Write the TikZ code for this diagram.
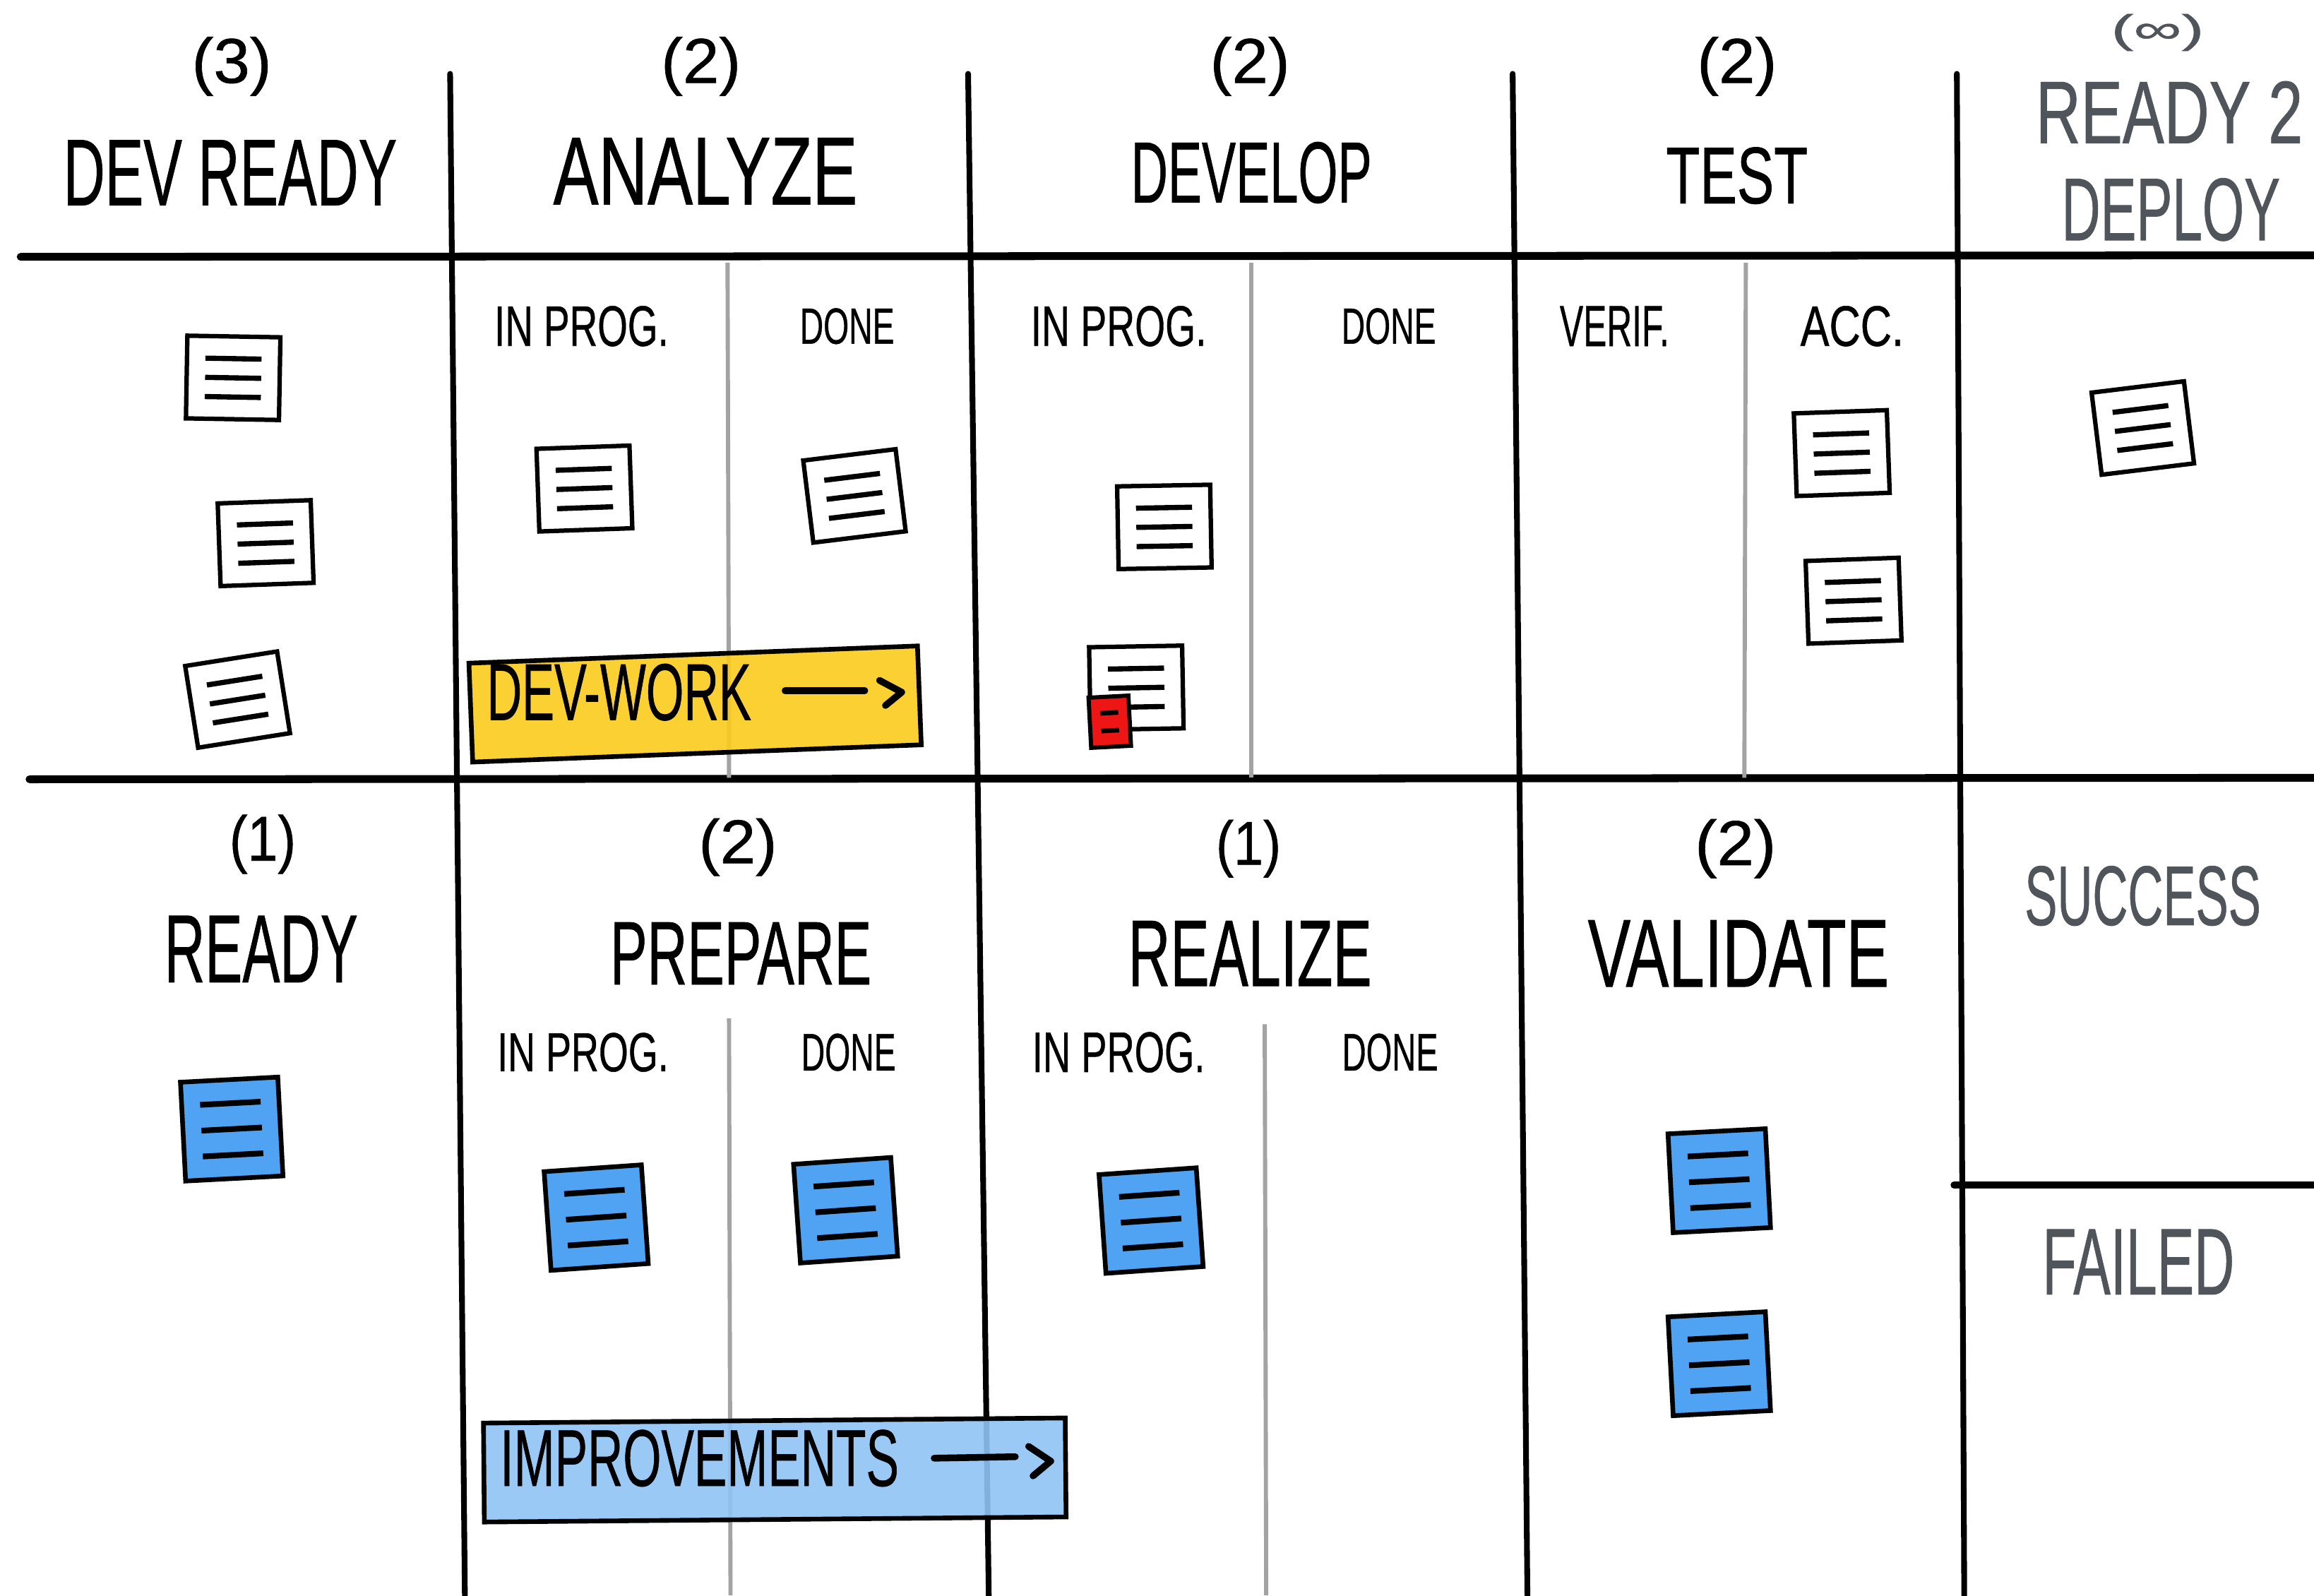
\documentclass[tikz,border=0pt]{standalone}
\usepackage{fontspec}
\setmainfont{Liberation Sans}
\newfontfamily\handfont{Liberation Sans}[FakeBold=0.7]
\usepackage{graphicx}
\definecolor{bluecard}{HTML}{50A2F2}
\definecolor{bluebanner}{HTML}{90C4F6}
\definecolor{yellowbanner}{HTML}{FBCB1C}
\definecolor{redcard}{HTML}{EE1515}
\definecolor{greytxt}{HTML}{50555B}
\definecolor{subline}{HTML}{A3A3A3}
\newcommand\capsfit[3]{\resizebox{#1cm}{#2cm}{#3}}
\newcommand\parfit[3]{\resizebox*{#1cm}{#2cm}{#3}}
\newcommand\cardlines[3]{\vbox{\hrule width #1 height #3\vskip\dimexpr #2-#3\relax\hrule width #1 height #3\vskip\dimexpr #2-#3\relax\hrule width #1 height #3}}
\newcommand\twolines[3]{\vbox{\hrule width #1 height #3\vskip\dimexpr #2-#3\relax\hrule width #1 height #3}}
\tikzset{
  lbl/.style={inner sep=0pt, font=\handfont},
  glbl/.style={lbl, text=greytxt},
  board/.style={line width=1.1pt, black, line cap=round},
  brush/.style={line width=1.5pt, black, line cap=round},
  subdiv/.style={line width=0.8pt, subline},
  wcard/.style={draw=black, line width=0.85pt, fill=white, inner sep=0pt,
    minimum width=0.63cm, minimum height=0.56cm,
    node contents={\cardlines{0.38cm}{0.13cm}{1pt}}},
  bcard/.style={draw=black, line width=0.9pt, fill=bluecard, inner sep=0pt,
    minimum width=0.66cm, minimum height=0.67cm,
    node contents={\cardlines{0.41cm}{0.175cm}{1.1pt}}},
  rcard/.style={draw=black, line width=0.8pt, fill=redcard, inner sep=0pt,
    minimum width=0.27cm, minimum height=0.34cm,
    node contents={\twolines{0.12cm}{0.12cm}{0.9pt}}},
  banner/.style={draw=black, line width=0.9pt, inner sep=0pt, fill opacity=0.9, text opacity=1},
  arrowpart/.style={line width=1.3pt, line cap=round, line join=round}
}
\begin{document}
\begin{tikzpicture}[x=0.01cm, y=-0.01cm]
\fill[white] (0,0) rectangle (1568,1081);
\useasboundingbox (0,0) rectangle (1568,1081);

% grid
\draw[brush] (14,174) -- (1568,173);
\draw[brush] (20,528) -- (1568,527);
\draw[board, line width=1.3pt] (1324,803) -- (1568,803);
\draw[board] (305,50) -- (315,1081);
\draw[board] (656,50) -- (670,1081);
\draw[board] (1025,50) -- (1035,1081);
\draw[board] (1326,50) -- (1331,1081);
\draw[subdiv] (493,178) -- (494,527);
\draw[subdiv] (494,690) -- (495,1081);
\draw[subdiv] (848,178) -- (848,527);
\draw[subdiv] (857,694) -- (858,1081);
\draw[subdiv] (1183,178) -- (1182,527);

% banners
\node[banner, fill=yellowbanner, minimum width=3.04cm, minimum height=0.67cm, rotate=2.2] (devwork) at (471,477) {};
\node[banner, fill=bluebanner, minimum width=3.94cm, minimum height=0.67cm, rotate=0.5] (improv) at (525,996) {};
\node[lbl] (devworktxt) at (419.5,469) {\capsfit{1.79}{0.38}{DEV-WORK}};
\draw[arrowpart] (532,468) -- (586,468);
\draw[arrowpart] (596,461) -- (611,469) -- (600,478);
\node[lbl] (imptxt) at (474,988) {\capsfit{2.70}{0.38}{IMPROVEMENTS}};
\draw[arrowpart] (633,988) -- (688,987);
\draw[arrowpart] (697,980) -- (712,990) -- (700,1000);

% column headers (top)
\node[lbl] (n1) at (157,45) {\parfit{0.54}{0.40}{(3)}};
\node[lbl] (h1) at (156,117) {\capsfit{2.26}{0.44}{DEV READY}};
\node[lbl] (n2) at (475,45) {\parfit{0.54}{0.40}{(2)}};
\node[lbl] (h2) at (478,116) {\capsfit{2.06}{0.45}{ANALYZE}};
\node[lbl] (n3) at (847,45) {\parfit{0.54}{0.40}{(2)}};
\node[lbl] (h3) at (848,117) {\capsfit{1.63}{0.41}{DEVELOP}};
\node[lbl] (n4) at (1177,45) {\parfit{0.54}{0.40}{(2)}};
\node[lbl] (h4) at (1177,119) {\capsfit{0.96}{0.38}{TEST}};
\node[glbl] (n5) at (1462,22) {\parfit{0.63}{0.25}{(∞)}};
\node[glbl] (h5a) at (1470,76) {\capsfit{1.81}{0.42}{READY 2}};
\node[glbl] (h5b) at (1471,142) {\capsfit{1.48}{0.42}{DEPLOY}};

% sub headers (top)
\node[lbl] (s1) at (394,221) {\capsfit{1.18}{0.27}{IN PROG.}};
\node[lbl] (s2) at (574,221) {\capsfit{0.64}{0.24}{DONE}};
\node[lbl] (s3) at (758,221) {\capsfit{1.19}{0.27}{IN PROG.}};
\node[lbl] (s4) at (941,221) {\capsfit{0.64}{0.24}{DONE}};
\node[lbl] (s5) at (1094,221) {\capsfit{0.74}{0.27}{VERIF.}};
\node[lbl] (s6) at (1255,221) {\capsfit{0.70}{0.27}{ACC.}};

% lower headers
\node[lbl] (m1) at (178,572) {\parfit{0.45}{0.40}{(1)}};
\node[lbl] (k1) at (177,643) {\capsfit{1.31}{0.45}{READY}};
\node[lbl] (m2) at (500,574) {\parfit{0.53}{0.39}{(2)}};
\node[lbl] (k2) at (502,646) {\capsfit{1.77}{0.42}{PREPARE}};
\node[lbl] (t1) at (395,713) {\capsfit{1.16}{0.26}{IN PROG.}};
\node[lbl] (t2) at (575,713) {\capsfit{0.64}{0.25}{DONE}};
\node[lbl] (m3) at (846,575) {\parfit{0.44}{0.39}{(1)}};
\node[lbl] (k3) at (847,646) {\capsfit{1.65}{0.44}{REALIZE}};
\node[lbl] (t3) at (758,713) {\capsfit{1.17}{0.27}{IN PROG.}};
\node[lbl] (t4) at (942,713) {\capsfit{0.65}{0.25}{DONE}};
\node[lbl] (m4) at (1176,575) {\parfit{0.55}{0.40}{(2)}};
\node[lbl] (k4) at (1178,646) {\capsfit{2.04}{0.45}{VALIDATE}};
\node[glbl] (k5) at (1452,607) {\capsfit{1.60}{0.40}{SUCCESS}};
\node[glbl] (k6) at (1449,855) {\capsfit{1.30}{0.44}{FAILED}};

% white cards
\node (w1) at (158,256) [wcard, rotate=-1];
\node (w2) at (180,368) [wcard, rotate=2];
\node (w3) at (161,474) [wcard, rotate=9];
\node (w4) at (396,331) [wcard, rotate=2];
\node (w5) at (579,336) [wcard, rotate=7];
\node (w6) at (789,357) [wcard, rotate=1];
\node (w7) at (770,466) [wcard, rotate=1];
\node (r1) at (752,489) [rcard, rotate=3];
\node (w8) at (1248,307) [wcard, rotate=2];
\node (w9) at (1256,407) [wcard, rotate=2];
\node (w10) at (1452,290) [wcard, rotate=7];

% blue cards
\node (b1) at (157,765) [bcard, rotate=3];
\node (b2) at (404,825) [bcard, rotate=4];
\node (b3) at (573,820) [bcard, rotate=4];
\node (b4) at (780,827) [bcard, rotate=4];
\node (b5) at (1165,800) [bcard, rotate=3];
\node (b6) at (1165,924) [bcard, rotate=3];
\end{tikzpicture}
\end{document}
